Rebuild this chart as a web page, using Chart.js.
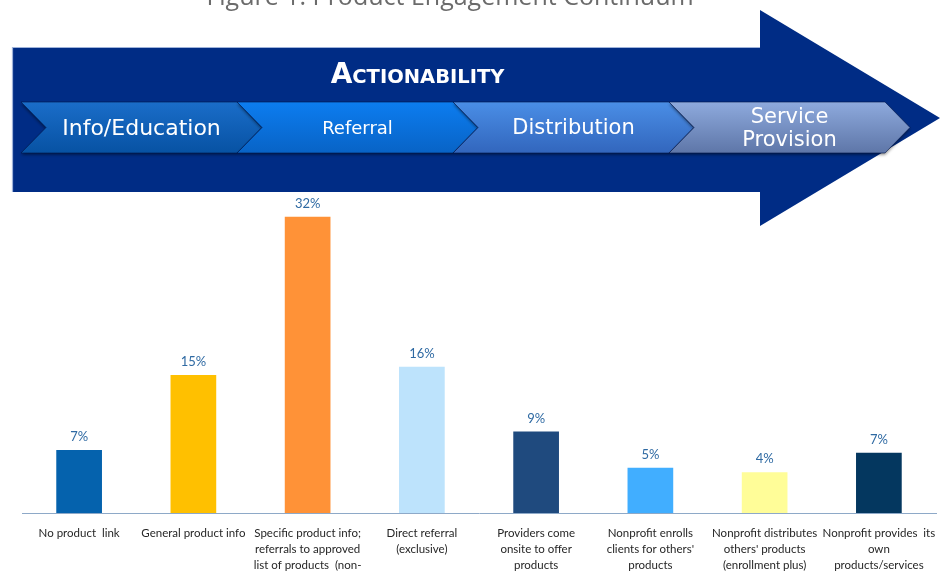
<!DOCTYPE html>
<html>
<head>
<meta charset="utf-8">
<script src="https://cdn.jsdelivr.net/npm/chart.js@4.4.1/dist/chart.umd.min.js"></script>
<style>
  html, body { margin: 0; padding: 0; background: #ffffff; overflow: hidden; }
  #wrap { width: 942px; height: 575px; position: relative; }
  canvas { display: block; }
</style>
</head>
<body>
<div id="wrap"><canvas id="c"></canvas></div>
<script>
// ---- data ----
const figureTitle = "Figure 1: Product Engagement Continuum";
const bannerTitle = "ACTIONABILITY";
const stages = [["Info/Education"], ["Referral"], ["Distribution"], ["Service", "Provision"]];
const categories = [
  ["No product  link"],
  ["General product info"],
  ["Specific product info;", "referrals to approved", "list of products  (non-", "exclusive)"],
  ["Direct referral", "(exclusive)"],
  ["Providers come", "onsite to offer", "products"],
  ["Nonprofit enrolls", "clients for others'", "products"],
  ["Nonprofit distributes", "others' products", "(enrollment plus)"],
  ["Nonprofit provides  its", "own", "products/services"]
];
const values = [6.8, 14.9, 32, 15.8, 8.8, 4.9, 4.4, 6.5];
const valueLabels = ["7%", "15%", "32%", "16%", "9%", "5%", "4%", "7%"];
const barColors = ["#0562AD", "#FFC000", "#FF9237", "#BDE3FC", "#1F4A7E", "#41AEFF", "#FFFD98", "#04375F"];

// ---- arrow banner plugin ----
const bannerPlugin = {
  id: 'banner',
  beforeDraw(chart) {
    const ctx = chart.ctx;
    ctx.save();
    // figure title (cut off at top)
    ctx.fillStyle = '#6b6b6b';
    ctx.font = '25px "Open Sans"';
    ctx.textAlign = 'center';
    ctx.textBaseline = 'alphabetic';
    ctx.fillText(figureTitle, 450, 5);

    // big arrow
    ctx.fillStyle = '#002C85';
    ctx.beginPath();
    ctx.moveTo(12, 47); ctx.lineTo(760, 47); ctx.lineTo(760, 10);
    ctx.lineTo(940, 118); ctx.lineTo(760, 226); ctx.lineTo(760, 192);
    ctx.lineTo(12, 192); ctx.closePath(); ctx.fill();
    ctx.strokeStyle = '#9FB3DA'; ctx.lineWidth = 1.2;
    ctx.beginPath(); ctx.moveTo(12.5, 192); ctx.lineTo(12.5, 47.5); ctx.lineTo(760, 47.5); ctx.stroke();

    // banner title in small caps (drawn manually)
    ctx.fillStyle = '#ffffff';
    ctx.textAlign = 'left';
    ctx.textBaseline = 'alphabetic';
    const bigF = 'bold 28px "DejaVu Sans"', smallF = 'bold 19.5px "DejaVu Sans"';
    const first = bannerTitle.charAt(0), rest = bannerTitle.slice(1);
    ctx.font = bigF; const w1 = ctx.measureText(first).width;
    ctx.font = smallF; const w2 = ctx.measureText(rest).width;
    const sx = 417.5 - (w1 + w2) / 2;
    ctx.font = bigF; ctx.fillText(first, sx, 83);
    ctx.font = smallF; ctx.fillText(rest, sx + w1, 83);

    // chevrons
    const grads = [["#1A6DC9", "#0752A3"], ["#0C7DF0", "#0863C6"], ["#4A8EE6", "#3266BD"], ["#8EAADD", "#5E76A8"]];
    const sizes = [22, 18, 21, 21];
    const top = 102, bot = 153, mid = 127.5, d = 25, w = 216;
    stages.forEach((s, i) => {
      const x0 = 21 + i * 216;
      ctx.save();
      ctx.shadowColor = 'rgba(0,0,0,0.4)'; ctx.shadowOffsetY = 2; ctx.shadowBlur = 3;
      const g = ctx.createLinearGradient(0, top, 0, bot);
      g.addColorStop(0, grads[i][0]); g.addColorStop(1, grads[i][1]);
      ctx.fillStyle = g;
      ctx.beginPath();
      ctx.moveTo(x0, top); ctx.lineTo(x0 + w, top); ctx.lineTo(x0 + w + d, mid);
      ctx.lineTo(x0 + w, bot); ctx.lineTo(x0, bot); ctx.lineTo(x0 + d, mid); ctx.closePath();
      ctx.fill();
      ctx.restore();
      ctx.strokeStyle = 'rgba(0,20,70,0.6)'; ctx.lineWidth = 1;
      ctx.stroke();
      ctx.fillStyle = '#ffffff';
      ctx.font = sizes[i] + 'px "DejaVu Sans"';
      ctx.textAlign = 'center'; ctx.textBaseline = 'middle';
      const cx = x0 + d / 2 + w / 2;
      if (s.length === 1) ctx.fillText(s[0], cx, mid + 1.5);
      else { ctx.fillText(s[0], cx, mid - 9.5); ctx.fillText(s[1], cx, mid + 13.5); }
    });
    ctx.restore();
  }
};

// ---- value labels ----
const valueLabelPlugin = {
  id: 'valueLabels',
  afterDatasetsDraw(chart) {
    const ctx = chart.ctx;
    ctx.save();
    ctx.fillStyle = '#2F6AA3';
    ctx.font = '13px Lato';
    ctx.textAlign = 'center'; ctx.textBaseline = 'middle';
    chart.getDatasetMeta(0).data.forEach((bar, i) => {
      ctx.fillText(valueLabels[i], bar.x, bar.y - 13);
    });
    ctx.restore();
  }
};

new Chart(document.getElementById('c'), {
  type: 'bar',
  data: {
    labels: categories,
    datasets: [{ data: values, backgroundColor: barColors, borderWidth: 0, categoryPercentage: 1, barPercentage: 0.4 }]
  },
  options: {
    responsive: true, maintainAspectRatio: false, animation: false,
    layout: { padding: { top: 189, left: 22, right: 6, bottom: 0 } },
    plugins: { legend: { display: false }, tooltip: { enabled: false } },
    scales: {
      y: { display: false, min: 0, max: 35 },
      x: {
        grid: { display: false, drawTicks: false },
        border: { display: true, color: '#8EA9C8', width: 1 },
        ticks: { color: '#262626', font: { family: 'Lato', size: 11.5, lineHeight: 1.4 }, padding: 12, maxRotation: 0, autoSkip: false },
        afterFit(scale) { scale.height = 62; scale.paddingLeft = 0; scale.paddingRight = 0; }
      }
    }
  },
  plugins: [bannerPlugin, valueLabelPlugin]
});
</script>
</body>
</html>
